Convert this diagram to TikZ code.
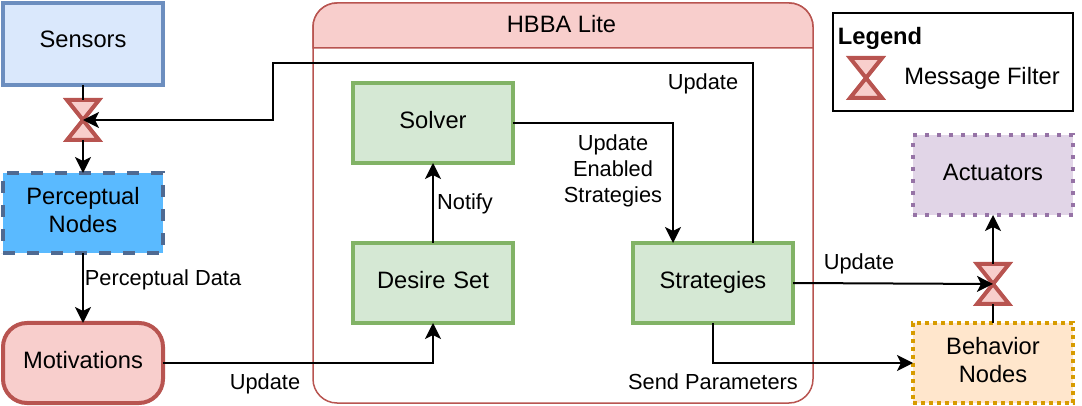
\documentclass[tikz,border=0pt]{standalone}
\usepackage{fontspec}
\setmainfont{Liberation Sans}
\usetikzlibrary{arrows.meta}
\definecolor{sensorfill}{HTML}{DAE8FC}
\definecolor{sensorline}{HTML}{6C8EBF}
\definecolor{percepfill}{HTML}{5ABAFF}
\definecolor{percepline}{HTML}{4F6A92}
\definecolor{hbbafill}{HTML}{F8CECC}
\definecolor{hbbaline}{HTML}{B85450}
\definecolor{modulefill}{HTML}{D5E8D4}
\definecolor{moduleline}{HTML}{82B366}
\definecolor{actfill}{HTML}{E1D5E7}
\definecolor{actline}{HTML}{9673A6}
\definecolor{behavfill}{HTML}{FFE6CC}
\definecolor{behavline}{HTML}{D79B00}
\newcommand{\msgfilter}[2]{%
    \node (#1) [filterbox] at (#2) {};
    \draw [filterline] (#1.north west) -- (#1.north east) -- (#1.south west) -- (#1.south east) -- cycle;
}
\begin{document}
\begin{tikzpicture}[x=0.5pt,y=-0.5pt,node distance=80pt,font=\fontsize{11.85}{14}\selectfont]

    % Styles des noeuds
    \tikzstyle{module} = [rectangle, minimum width=80pt, minimum height=40pt, text width=76pt, align=center, inner sep=0pt, outer sep=0pt, line width=2pt, execute at begin node=\strut, execute at end node=\strut]
    \tikzstyle{sensorbox} = [module, minimum height=41pt, draw=sensorline, fill=sensorfill]
    \tikzstyle{percepbox} = [module, draw=percepline, fill=percepfill, dash pattern=on 6pt off 6pt]
    \tikzstyle{motivbox} = [module, rounded corners=12pt, draw=hbbaline, fill=hbbafill]
    \tikzstyle{greenbox} = [module, draw=moduleline, fill=modulefill]
    \tikzstyle{actbox} = [module, draw=actline, fill=actfill, dash pattern=on 2pt off 4pt]
    \tikzstyle{behavbox} = [module, draw=behavline, fill=behavfill, dash pattern=on 2pt off 2pt]
    \tikzstyle{filterbox} = [rectangle, minimum width=16pt, minimum height=20pt, inner sep=0pt, outer sep=0pt]
    \tikzstyle{filterline} = [line width=2pt, draw=hbbaline, fill=hbbafill, line join=miter]
    \tikzstyle{arrow} = [line width=1pt, -{Stealth[length=8pt, width=8pt, inset=2pt]}]
    \tikzstyle{plain} = [line width=1pt]
    \tikzstyle{note} = [font=\fontsize{10.9}{13}\selectfont, align=center, inner sep=0pt, execute at begin node=\strut, execute at end node=\strut]

    \useasboundingbox (0,0) rectangle (1082,406);

    % Cadres
    \node (hbba) [rectangle, minimum width=250pt, minimum height=200pt, inner sep=0pt, outer sep=0pt, rounded corners=12pt, draw=hbbaline, line width=0.75pt] at (563,203) {};
    \draw [line width=0.75pt, draw=hbbaline, fill=hbbafill] (hbba.west |- 0,48) {[rounded corners=12pt] -- (hbba.north west) -- (hbba.north east)} -- (hbba.east |- 0,48) -- cycle;
    \node (hbbatitle) at (561.5,24) {HBBA Lite};
    \node (legend) [rectangle, minimum width=120pt, minimum height=49pt, inner sep=0pt, outer sep=0pt, draw=black, line width=1pt] at (953,62) {};

    % Noeuds
    \node (sensors) [sensorbox] at (83,44) {\raisebox{1pt}{Sensors}};
    \node (motiv) [motivbox] at (83,363) {Motivations};
    \node (percep) [percepbox, above of=motiv, yshift=-5pt] {Perceptual\\Nodes};
    \node (desire) [greenbox] at (433,283) {Desire Set};
    \node (solver) [greenbox, above of=desire] {Solver};
    \node (strat) [greenbox, right of=desire, xshift=60pt] {Strategies};
    \node (actuators) [actbox] at (993,175) {Actuators};
    \node (behav) [behavbox] at (993,363) {Behavior\\Nodes};
    \msgfilter{filterA}{83,120}
    \msgfilter{filterB}{993,284}
    \msgfilter{filterL}{866,78}

    % Flèches
    \draw [plain] (sensors) -- (filterA);
    \draw [arrow] (filterA) -- (percep);
    \draw [arrow] (percep) -- (motiv);
    \draw [arrow] (motiv) -| (desire);
    \draw [arrow] (desire) -- (solver);
    \draw [arrow] (solver.east) -| ([xshift=-20pt]strat.north);
    \draw [arrow] ([xshift=20pt]strat.north) |- (273,63) |- (filterA.center);
    \draw [arrow] (strat.east) -- (filterB.center);
    \draw [arrow] (strat.south) |- (behav.west);
    \draw [plain] (behav) -- (filterB);
    \draw [arrow] (filterB) -- (actuators);

    % Annotations
    \node (legendtitle) [font=\fontsize{11.85}{14}\selectfont\bfseries, inner sep=0pt] at (880,38) {Legend};
    \node (legendtext) [inner sep=0pt] at (982,78) {Message Filter};
    \node (lblpercep) [note] at (163,280) {Perceptual Data};
    \node (lblmotiv) [note] at (265,384) {Update};
    \node (lblnotify) [note] at (465,204) {Notify};
    \node (lblsolver) [note] at (613,173) {Update\\Enabled\\Strategies};
    \node (lblstrat) [note] at (703,84) {Update};
    \node (lblfilter) [note] at (859,264) {Update};
    \node (lblparam) [note] at (713,384) {Send Parameters};

\end{tikzpicture}
\end{document}
